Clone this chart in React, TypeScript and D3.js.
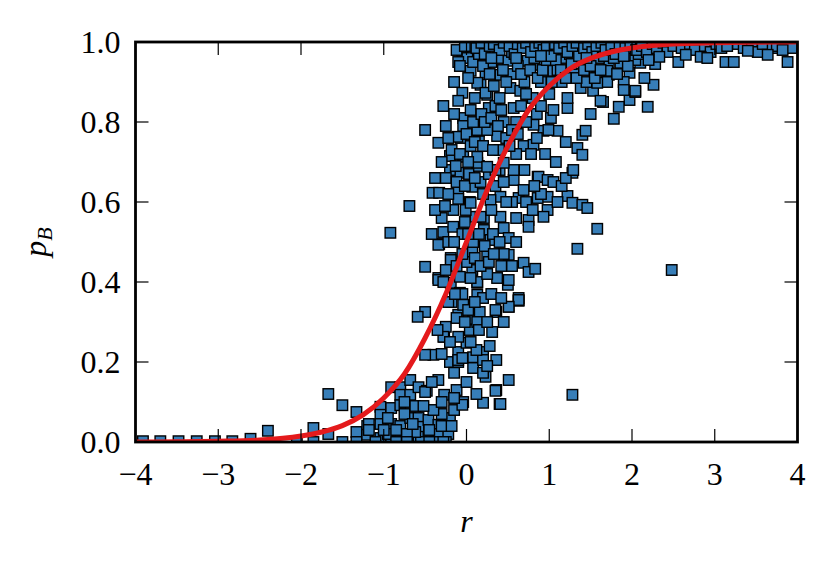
import { useEffect, useRef } from "react";
import * as d3 from "d3";

type Pt = [number, number];

const xTicks = [-4, -3, -2, -1, 0, 1, 2, 3, 4];
const yTicks = [0, 0.2, 0.4, 0.6, 0.8, 1.0];

// far-left tail, pB ~ 0
const leftTail: Pt[] = [
  [-3.91, 0.002], [-3.7, 0.002], [-3.48, 0.002], [-3.26, 0.002], [-3.04, 0.002],
  [-2.83, 0.002], [-2.61, 0.008], [-2.4, 0.028], [-2.05, 0.0], [-1.85, 0.035],
  [-1.85, 0.0], [-1.67, 0.12], [-1.67, 0.02], [-1.5, 0.092], [-1.5, 0.0],
  [-1.33, 0.075], [-1.33, 0.025], [-1.33, 0.0], [-1.2, 0.04], [-1.2, 0.018],
];

// pB below ~0.35
const lowerCluster: Pt[] = [
  [-1.18, 0.045], [-1.18, 0.03], [-1.04, 0.088], [-1.04, 0.068], [-1.04, 0.045],
  [-1.04, 0.01], [-0.91, 0.137], [-0.91, 0.085], [-0.91, 0.045], [-0.91, 0.0],
  [-0.8, 0.137], [-0.8, 0.118], [-0.8, 0.092], [-0.8, 0.04], [-0.8, 0.013],
  [-0.68, 0.155], [-0.68, 0.118], [-0.68, 0.06], [-0.68, 0.0], [-0.58, 0.137],
  [-0.58, 0.06], [-0.58, 0.038], [-0.58, 0.013], [-0.48, 0.128], [-0.46, 0.055],
  [-0.46, 0.01], [-0.4, 0.218], [-0.5, 0.218], [-0.34, 0.155], [-0.34, 0.043],
  [-0.34, 0.02], [-0.27, 0.118], [-0.27, 0.263], [-0.25, 0.288], [-0.2, 0.06],
  [-0.2, 0.2], [-0.18, 0.35], [-0.15, 0.173], [-0.15, 0.08], [-0.1, 0.318],
  [-0.1, 0.225], [-0.1, 0.2], [-0.04, 0.1], [-0.04, 0.343], [0.0, 0.248],
  [0.04, 0.28], [0.08, 0.308], [0.08, 0.212], [0.08, 0.185], [0.16, 0.325],
  [0.2, 0.225], [0.2, 0.205], [0.23, 0.163], [0.2, 0.098], [0.31, 0.275],
  [0.36, 0.205], [0.36, 0.325], [0.36, 0.13], [0.4, 0.095], [0.51, 0.155],
  [0.51, 0.338], [0.63, 0.353], [1.28, 0.118], [-0.5, 0.325], [-0.59, 0.313],
  [-0.28, 0.263], [-0.1, 0.263], [-0.1, 0.205], [0.2, 0.173], [0.35, 0.128],
  [0.41, 0.095], [-0.05, 0.093], [-0.5, 0.125], [-0.62, 0.09], [-0.3, 0.07],
  [-0.12, 0.13], [0.0, 0.15], [0.12, 0.12], [-0.22, 0.02], [-0.4, 0.08],
  [-0.75, 0.07], [-0.95, 0.02], [-1.1, 0.0], [-0.85, 0.03], [-0.55, 0.0],
  [-0.38, 0.0], [-0.25, 0.0], [-0.3, 0.04], [-0.62, 0.025],
  [-1.0, 0.03], [-0.95, 0.06], [-0.75, 0.1], [-0.72, 0.02], [-0.65, 0.045],
  [-0.52, 0.09], [-0.45, 0.03], [-0.42, 0.15], [-0.3, 0.1], [-0.28, 0.0],
  [-0.18, 0.04], [-0.85, 0.0], [-0.72, 0.0], [-0.45, 0.0], [-0.15, 0.11],
  [-0.35, 0.28], [-0.3, 0.22], [-0.2, 0.25], [-0.05, 0.21], [0.12, 0.23],
  [0.25, 0.19], [0.05, 0.25], [0.28, 0.24],
];

// pB ~0.35 - 0.7
const midCluster: Pt[] = [
  [-0.69, 0.59], [-0.41, 0.623], [-0.33, 0.623], [-0.1, 0.63], [-0.1, 0.608],
  [0.04, 0.6], [0.07, 0.638], [0.03, 0.67], [0.17, 0.65], [0.21, 0.56],
  [0.11, 0.563], [-0.01, 0.58], [-0.28, 0.525], [-0.33, 0.495], [-0.19, 0.46],
  [-0.5, 0.438], [-0.34, 0.41], [-0.19, 0.398], [-0.08, 0.413], [-0.08, 0.373],
  [0.07, 0.43], [0.07, 0.475], [0.08, 0.5], [0.25, 0.465], [0.21, 0.53],
  [0.29, 0.505], [0.45, 0.535], [0.51, 0.51], [0.51, 0.468], [0.69, 0.448],
  [0.75, 0.425], [0.83, 0.433], [0.63, 0.36], [0.37, 0.41], [0.5, 0.393],
  [0.13, 0.398], [0.13, 0.368], [0.75, 0.555], [0.75, 0.538], [0.98, 0.58],
  [0.98, 0.613], [0.86, 0.61], [1.22, 0.615], [1.28, 0.598], [1.4, 0.593],
  [1.46, 0.585], [1.58, 0.533], [1.34, 0.483], [1.28, 0.673], [0.86, 0.663],
  [0.57, 0.655], [0.63, 0.61], [0.41, 0.613], [0.29, 0.605], [-0.92, 0.523],
  [2.48, 0.43], [-0.34, 0.493], [-0.19, 0.455], [-0.34, 0.405], [0.13, 0.4],
  [0.51, 0.405], [0.63, 0.355], [0.51, 0.338], [0.35, 0.33], [0.13, 0.3],
  [-0.1, 0.673], [0.05, 0.598], [-0.16, 0.58], [0.17, 0.563], [0.41, 0.563],
  [-0.16, 0.538], [0.93, 0.563], [0.69, 0.63], [0.87, 0.663], [0.98, 0.655],
  [-0.2, 0.68], [-0.3, 0.56], [-0.05, 0.52], [0.0, 0.45], [-0.25, 0.43],
  [0.25, 0.42], [0.3, 0.58], [0.55, 0.6], [0.6, 0.56], [0.35, 0.64],
  [0.15, 0.69], [-0.42, 0.52], [-0.22, 0.62], [0.45, 0.47], [-0.05, 0.37],
  [0.2, 0.36], [0.6, 0.5], [0.9, 0.62], [1.1, 0.6],
  [-0.38, 0.58], [-0.26, 0.59], [-0.22, 0.5], [-0.15, 0.5], [-0.12, 0.44],
  [-0.05, 0.47], [-0.02, 0.55], [0.02, 0.52], [0.05, 0.41], [0.1, 0.46],
  [0.15, 0.52], [0.17, 0.44], [0.22, 0.49], [0.27, 0.45], [0.32, 0.52],
  [0.33, 0.47], [0.4, 0.5], [0.42, 0.44], [0.55, 0.44], [-0.28, 0.4],
  [-0.22, 0.35], [-0.14, 0.37], [-0.12, 0.31], [-0.02, 0.3], [0.02, 0.33],
  [0.1, 0.35], [0.15, 0.28], [0.25, 0.3], [0.3, 0.37], [0.42, 0.36],
  [0.45, 0.3], [-0.25, 0.66], [-0.38, 0.66], [-0.12, 0.65], [-0.02, 0.64],
  [0.1, 0.66], [0.2, 0.62], [0.27, 0.67], [0.4, 0.68], [0.45, 0.65],
  [0.48, 0.6], [0.7, 0.68], [0.72, 0.6], [0.8, 0.58], [0.82, 0.64],
  [1.05, 0.65], [1.15, 0.64], [1.2, 0.66],
];

// pB ~0.7 - 0.95
const upperCluster: Pt[] = [
  [-0.05, 0.975], [0.01, 0.96], [0.05, 0.928], [-0.05, 0.873], [-0.1, 0.853],
  [0.23, 0.923], [0.17, 0.893], [0.25, 0.868], [0.27, 0.835], [-0.5, 0.78],
  [-0.34, 0.748], [-0.2, 0.715], [-0.04, 0.81], [-0.04, 0.79], [-0.07, 0.76],
  [0.13, 0.698], [0.15, 0.753], [0.15, 0.778], [0.37, 0.765], [0.35, 0.68],
  [0.57, 0.68], [0.69, 0.74], [0.81, 0.743], [0.93, 0.778], [1.1, 0.778],
  [1.02, 0.81], [1.05, 0.83], [1.22, 0.835], [1.4, 0.768], [1.34, 0.735],
  [1.4, 0.718], [1.29, 0.68], [0.53, 0.885], [0.65, 0.878], [0.41, 0.918],
  [0.5, 0.953], [0.74, 0.953], [0.89, 0.943], [1.05, 0.928], [1.17, 0.96],
  [1.38, 0.953], [1.38, 0.885], [1.22, 0.86], [1.58, 0.928], [1.53, 0.878],
  [2.26, 0.893], [2.19, 0.838], [1.97, 0.855], [1.84, 0.838], [1.78, 0.808],
  [2.04, 0.875], [1.97, 0.923], [1.72, 0.948], [1.72, 0.918], [1.86, 0.948],
  [2.1, 0.948], [0.13, 0.898], [0.23, 0.873], [0.57, 0.835], [0.81, 0.793],
  [0.99, 0.78], [0.05, 0.83], [0.13, 0.78], [0.25, 0.78], [-0.11, 0.763],
  [-0.04, 0.713], [0.13, 0.713], [0.25, 0.688], [0.45, 0.698], [0.3, 0.95],
  [0.35, 0.84], [0.45, 0.8], [0.6, 0.8], [0.7, 0.9], [0.8, 0.86],
  [0.9, 0.9], [1.0, 0.87], [1.15, 0.9], [1.3, 0.92], [1.45, 0.9],
  [1.6, 0.96], [1.65, 0.85], [1.5, 0.82], [1.2, 0.75], [0.95, 0.72],
  [0.6, 0.72], [0.4, 0.73], [0.05, 0.74], [-0.15, 0.82], [-0.15, 0.9],
  [-0.25, 0.79], [-0.1, 0.95], [0.1, 0.86], [0.4, 0.86], [0.55, 0.92],
  [0.85, 0.82], [1.1, 0.93], [1.25, 0.97], [1.7, 0.9], [1.9, 0.9],
  [2.0, 0.96], [2.15, 0.91], [2.04, 0.955], [1.58, 0.898], [1.62, 0.853],
  [1.7, 0.928], [1.44, 0.778], [1.9, 0.88], [2.04, 0.878],
  [-0.12, 0.98], [-0.08, 0.94], [0.02, 0.91], [0.08, 0.95], [0.15, 0.97],
  [0.2, 0.94], [0.28, 0.92], [0.33, 0.89], [0.38, 0.96], [0.44, 0.93],
  [0.48, 0.9], [0.55, 0.975], [0.62, 0.94], [0.66, 0.92], [0.72, 0.87],
  [0.77, 0.93], [0.82, 0.96], [0.86, 0.91], [0.92, 0.93], [0.97, 0.955],
  [1.03, 0.9], [1.08, 0.955], [1.14, 0.93], [1.2, 0.91], [1.27, 0.945],
  [1.33, 0.91], [1.36, 0.965], [1.42, 0.93], [1.5, 0.94], [1.55, 0.91],
  [1.62, 0.93], [1.66, 0.965], [1.78, 0.96], [1.82, 0.92], [1.95, 0.94],
  [2.08, 0.97], [2.22, 0.97], [2.28, 0.945],
  [-0.28, 0.84], [-0.22, 0.76], [-0.18, 0.73], [-0.13, 0.69], [-0.08, 0.72],
  [0.0, 0.77], [0.02, 0.7], [0.08, 0.8], [0.1, 0.75], [0.18, 0.82],
  [0.2, 0.74], [0.22, 0.8], [0.3, 0.81], [0.32, 0.73], [0.38, 0.79],
  [0.42, 0.83], [0.48, 0.76], [0.52, 0.74], [0.55, 0.78], [0.62, 0.77],
  [0.66, 0.84], [0.72, 0.8], [0.78, 0.72], [0.85, 0.76], [0.9, 0.84],
  [-0.3, 0.7], [1.08, 0.7],
];

// pB close to 1
const topBand: Pt[] = [
  [0.0, 0.995], [0.08, 0.99], [0.12, 0.985], [0.18, 0.998], [0.22, 0.97],
  [0.28, 0.99], [0.33, 0.995], [0.4, 0.98], [0.45, 0.998], [0.52, 0.99],
  [0.58, 0.97], [0.62, 0.995], [0.68, 0.985], [0.72, 0.998], [0.78, 0.975],
  [0.83, 0.99], [0.88, 0.998], [0.93, 0.98], [0.97, 0.992], [1.02, 0.965],
  [1.07, 0.995], [1.12, 0.985], [1.18, 0.998], [1.22, 0.975], [1.28, 0.99],
  [1.33, 0.998], [1.42, 0.985], [1.47, 0.995], [1.52, 0.975], [1.57, 0.99],
  [1.63, 0.998], [1.68, 0.98], [1.75, 0.992], [1.8, 0.97], [1.85, 0.995],
  [1.92, 0.985], [1.98, 0.998], [2.05, 0.98], [2.12, 0.99], [2.18, 0.975],
  [2.25, 0.995], [2.3, 0.985], [2.38, 0.998], [2.43, 0.975], [2.5, 0.99],
  [2.6, 0.985], [2.7, 0.995], [2.76, 0.98], [2.88, 0.99], [2.95, 0.975],
  [3.02, 0.995], [3.08, 0.985], [3.15, 0.99], [3.28, 0.995], [3.35, 0.985],
  [3.45, 0.99], [3.52, 0.975], [3.58, 0.995], [3.7, 0.985], [3.75, 0.99],
  [3.85, 0.995], [3.93, 0.985], [2.56, 0.95], [2.65, 0.968], [2.83, 0.963],
  [2.91, 0.96], [3.13, 0.95], [3.23, 0.95], [3.4, 0.978], [3.64, 0.968],
  [3.88, 0.95], [3.82, 0.98], [2.33, 0.963], [-0.02, 0.99], [0.3, 0.96],
  [0.6, 0.96], [0.9, 0.965], [1.45, 0.96], [1.9, 0.965], [2.2, 0.955],
];

// fitted curve
const fitCurve: Pt[] = [
  [-4, 0.0002], [-3.5, 0.0006], [-3, 0.002], [-2.5, 0.005], [-2, 0.015],
  [-1.75, 0.025], [-1.5, 0.041], [-1.25, 0.068], [-1, 0.11], [-0.75, 0.17],
  [-0.5, 0.26], [-0.25, 0.37], [0, 0.5], [0.25, 0.63], [0.5, 0.74],
  [0.75, 0.83], [1, 0.89], [1.25, 0.933], [1.5, 0.959], [1.75, 0.975],
  [2, 0.985], [2.5, 0.995], [3, 0.998], [3.5, 0.9994], [4, 0.9998],
];

export default function App() {
  const svgRef = useRef<SVGSVGElement>(null);

  useEffect(() => {
    const width = 832;
    const height = 566;
    const margin = { top: 42, right: 34.5, bottom: 124, left: 135.5 };
    const svg = d3.select(svgRef.current);
    svg.selectAll("*").remove();

    const x = d3
      .scaleLinear()
      .domain([-4, 4])
      .range([margin.left, width - margin.right]);
    const y = d3
      .scaleLinear()
      .domain([0, 1])
      .range([height - margin.bottom, margin.top]);

    const font = '"Liberation Serif", "Times New Roman", "DejaVu Serif", serif';

    svg
      .append("defs")
      .append("clipPath")
      .attr("id", "plot-clip")
      .append("rect")
      .attr("x", x(-4))
      .attr("y", y(1))
      .attr("width", x(4) - x(-4))
      .attr("height", y(0) - y(1));

    const plot = svg.append("g").attr("clip-path", "url(#plot-clip)");

    const points = [...leftTail, ...lowerCluster, ...midCluster, ...upperCluster, ...topBand];
    const s = 10.5;
    plot
      .selectAll("rect.pt")
      .data(points)
      .enter()
      .append("rect")
      .attr("class", "pt")
      .attr("x", (d) => x(d[0]) - s / 2)
      .attr("y", (d) => y(d[1]) - s / 2)
      .attr("width", s)
      .attr("height", s)
      .attr("fill", "#377eb8")
      .attr("stroke", "black")
      .attr("stroke-width", 1.4);

    const line = d3
      .line<Pt>()
      .x((d) => x(d[0]))
      .y((d) => y(d[1]))
      .curve(d3.curveMonotoneX);

    plot
      .append("path")
      .datum(fitCurve)
      .attr("d", line)
      .attr("fill", "none")
      .attr("stroke", "#e41a1c")
      .attr("stroke-width", 5);

    // inward ticks on all four sides
    const tl = 13;
    const ticks = svg.append("g").attr("stroke", "black").attr("stroke-width", 1.2);
    xTicks.slice(1, -1).forEach((t) => {
      ticks.append("line").attr("x1", x(t)).attr("x2", x(t)).attr("y1", y(0)).attr("y2", y(0) - tl);
      ticks.append("line").attr("x1", x(t)).attr("x2", x(t)).attr("y1", y(1)).attr("y2", y(1) + tl);
    });
    yTicks.slice(1, -1).forEach((t) => {
      ticks.append("line").attr("x1", x(-4)).attr("x2", x(-4) + tl).attr("y1", y(t)).attr("y2", y(t));
      ticks.append("line").attr("x1", x(4)).attr("x2", x(4) - tl).attr("y1", y(t)).attr("y2", y(t));
    });

    // frame
    svg
      .append("rect")
      .attr("x", x(-4))
      .attr("y", y(1))
      .attr("width", x(4) - x(-4))
      .attr("height", y(0) - y(1))
      .attr("fill", "none")
      .attr("stroke", "black")
      .attr("stroke-width", 2.8);

    // tick labels
    svg
      .append("g")
      .selectAll("text")
      .data(xTicks)
      .enter()
      .append("text")
      .attr("x", (d) => x(d))
      .attr("y", y(0) + 43)
      .attr("text-anchor", "middle")
      .style("font-family", font)
      .style("font-size", "32px")
      .text((d) => (d < 0 ? "\u2212" + Math.abs(d) : String(d)));

    svg
      .append("g")
      .selectAll("text")
      .data(yTicks)
      .enter()
      .append("text")
      .attr("x", x(-4) - 15)
      .attr("y", (d) => y(d) + 11)
      .attr("text-anchor", "end")
      .style("font-family", font)
      .style("font-size", "32px")
      .text((d) => d.toFixed(1));

    // axis labels
    svg
      .append("text")
      .attr("x", x(0))
      .attr("y", 532)
      .attr("text-anchor", "middle")
      .style("font-family", font)
      .style("font-style", "italic")
      .style("font-size", "32px")
      .text("r");

    const yl = svg
      .append("text")
      .attr("transform", `translate(46,${y(0.5)}) rotate(-90)`)
      .attr("text-anchor", "middle")
      .style("font-family", font)
      .style("font-style", "italic")
      .style("font-size", "32px");
    yl.append("tspan").text("p");
    yl.append("tspan").style("font-size", "22px").attr("dy", 6).text("B");
  }, []);

  return (
    <svg
      ref={svgRef}
      width={832}
      height={566}
      style={{ position: "absolute", left: 0, top: 0, background: "white" }}
    />
  );
}
